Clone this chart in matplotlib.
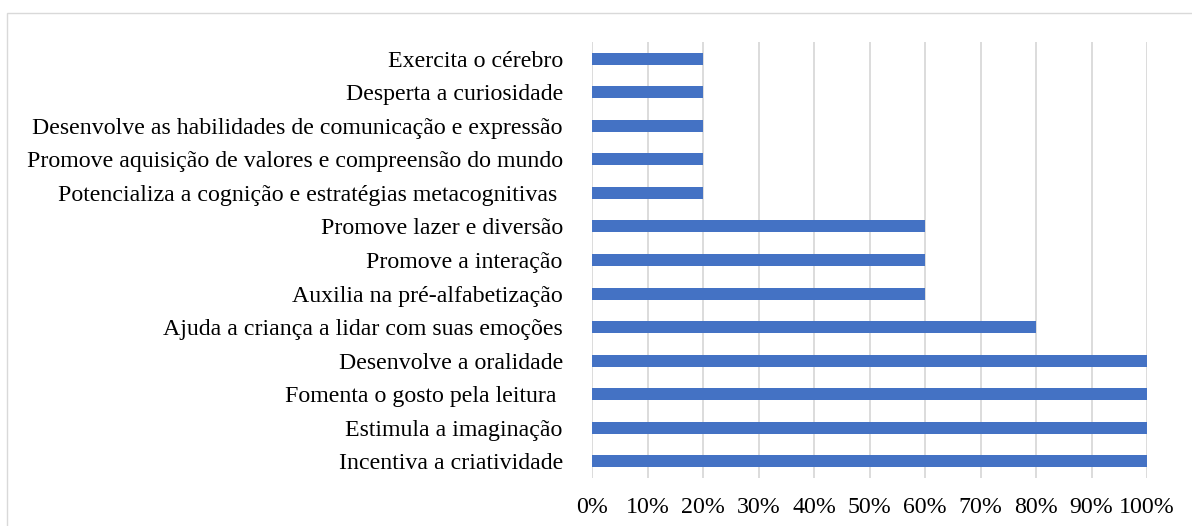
import matplotlib
matplotlib.use("Agg")
import matplotlib.pyplot as plt
from matplotlib.ticker import FuncFormatter
from matplotlib.patches import Rectangle

categories = [
    "Incentiva a criatividade",
    "Estimula a imaginação",
    "Fomenta o gosto pela leitura ",
    "Desenvolve a oralidade",
    "Ajuda a criança a lidar com suas emoções",
    "Auxilia na pré-alfabetização",
    "Promove a interação",
    "Promove lazer e diversão",
    "Potencializa a cognição e estratégias metacognitivas ",
    "Promove aquisição de valores e compreensão do mundo",
    "Desenvolve as habilidades de comunicação e expressão",
    "Desperta a curiosidade",
    "Exercita o cérebro",
]
values = [1.0, 1.0, 1.0, 1.0, 0.8, 0.6, 0.6, 0.6, 0.2, 0.2, 0.2, 0.2, 0.2]
xticks = [i / 10 for i in range(11)]

plt.rcParams['font.family'] = ['Liberation Serif', 'DejaVu Serif']

fig = plt.figure(figsize=(11.92, 5.26), dpi=100)
ax = fig.add_axes([592/1192, 1 - 478/526, (1147 - 592)/1192, (478 - 42)/526])

y = list(range(len(categories)))
ax.barh(y, values, height=0.36, color="#4472C4", zorder=3)
ax.set_ylim(-0.5, len(categories) - 0.5)
ax.set_xlim(0, 1)
ax.set_yticks(y)
ax.set_yticklabels(categories, fontsize=17.2)
ax.set_xticks(xticks)
ax.xaxis.set_major_formatter(FuncFormatter(lambda v, p: f"{int(round(v*100))}%"))
ax.tick_params(axis='x', labelsize=17.2, length=0, pad=14)
ax.tick_params(axis='y', length=0, pad=21)
for s in ax.spines.values():
    s.set_visible(False)
ax.grid(axis='x', color="#D9D9D9", linewidth=1.3, zorder=0)
ax.set_axisbelow(True)

border = Rectangle((7/1192, -0.05), 1.2, 1 - 13/526 + 0.05, transform=fig.transFigure,
                   fill=False, edgecolor="#D9D9D9", linewidth=1.0, clip_on=False)
fig.patches.append(border)

fig.savefig("out.png", dpi=100)
